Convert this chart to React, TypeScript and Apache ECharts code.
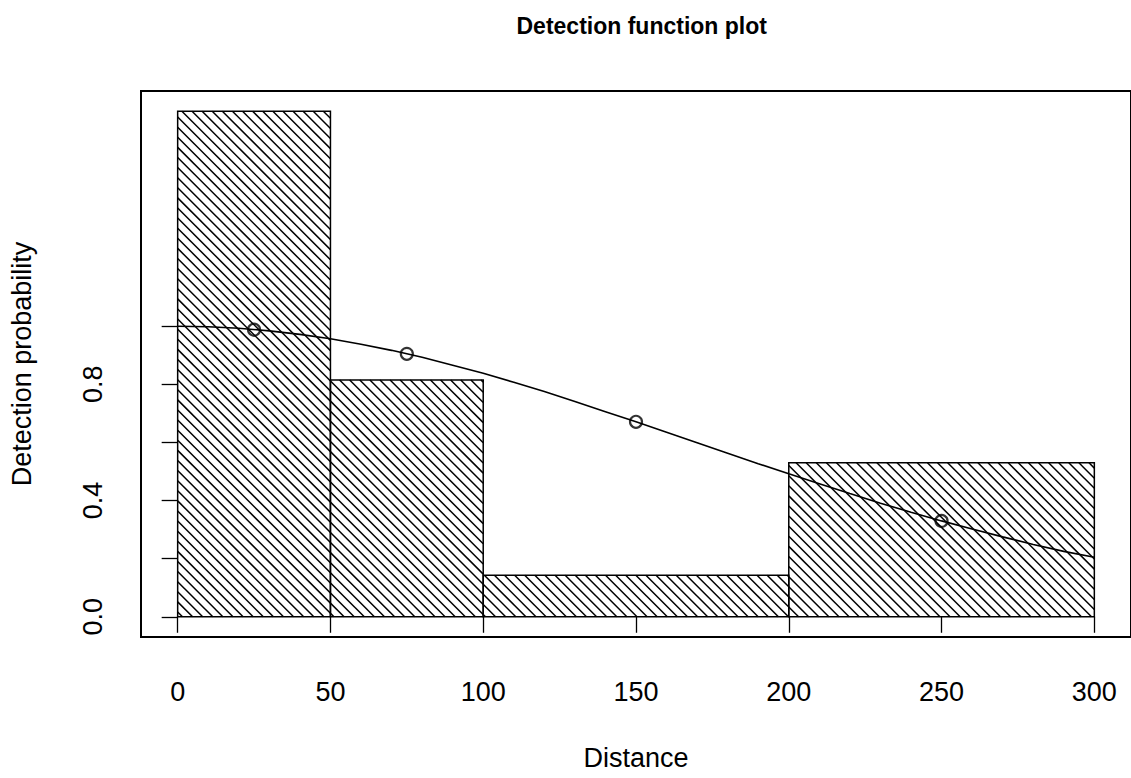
import React, { useEffect, useRef } from "react";
import * as echarts from "echarts";

// ---- data ----
const breaks = [0, 50, 100, 200, 300];
const barHeights = [1.74, 0.815, 0.143, 0.53];
const curveX = [0, 10, 20, 30, 40, 50, 60, 70, 80, 90, 100, 110, 120, 130, 140, 150, 160, 170, 180, 190, 200, 210, 220, 230, 240, 250, 260, 270, 280, 290, 300];
const curveY = [1.0, 0.998, 0.993, 0.984, 0.972, 0.957, 0.938, 0.917, 0.893, 0.866, 0.838, 0.807, 0.775, 0.741, 0.706, 0.671, 0.635, 0.599, 0.563, 0.527, 0.492, 0.458, 0.424, 0.391, 0.36, 0.33, 0.302, 0.275, 0.249, 0.225, 0.205];
const pointX = [25, 75, 150, 250];
const pointY = [0.988, 0.905, 0.671, 0.33];
const xTicks = [0, 50, 100, 150, 200, 250, 300];
const yTicks = [0, 0.2, 0.4, 0.6, 0.8, 1.0];
const yLabels = [0, 0.4, 0.8];
const titleText = "Detection function plot";
const xName = "Distance";
const yName = "Detection probability";

const FONT = "'Liberation Sans', Arial, Helvetica, sans-serif";
const FS = 27;

export default function App() {
  const ref = useRef<HTMLDivElement>(null);
  useEffect(() => {
    document.body.style.margin = "0";
    const chart = echarts.init(ref.current as HTMLDivElement, null, { renderer: "svg" });
    const xMin = -12;
    const xMax = 312;
    const yTop = Math.max(...barHeights);
    const yMin = -0.04 * yTop;
    const yMax = 1.04 * yTop;

    const barData = barHeights.map((h, i) => [breaks[i], breaks[i + 1], h]);

    const option: any = {
      animation: false,
      backgroundColor: "#fff",
      textStyle: { fontFamily: FONT },
      title: {
        text: titleText,
        left: 636.7,
        top: 9,
        textAlign: "center",
        textStyle: { fontSize: 23, fontWeight: "bold", color: "#000", fontFamily: FONT },
      },
      grid: {
        left: 140,
        top: 91,
        width: 993.6,
        height: 546,
        show: true,
        borderColor: "#000",
        borderWidth: 2,
        backgroundColor: "transparent",
        containLabel: false,
      },
      xAxis: {
        type: "value",
        min: xMin,
        max: xMax,
        name: xName,
        nameLocation: "middle",
        nameGap: 107,
        nameTextStyle: { fontSize: FS, color: "#000", fontFamily: FONT },
        splitLine: { show: false },
        axisLine: { show: false },
        axisTick: { show: true, customValues: xTicks, length: 16, lineStyle: { color: "#000", width: 1.3 } },
        axisLabel: { customValues: xTicks, margin: 41, fontSize: FS, color: "#000", fontFamily: FONT, hideOverlap: false },
      },
      yAxis: {
        type: "value",
        min: yMin,
        max: yMax,
        name: yName,
        nameLocation: "middle",
        nameGap: 106,
        nameRotate: 90,
        nameTextStyle: { fontSize: FS, color: "#000", fontFamily: FONT },
        splitLine: { show: false },
        axisLine: { show: false },
        axisTick: { show: true, customValues: yTicks, length: 16, lineStyle: { color: "#000", width: 1.3 } },
        axisLabel: {
          customValues: yLabels,
          rotate: 90,
          margin: 35,
          fontSize: FS,
          color: "#000",
          fontFamily: FONT,
          formatter: (v: number) => v.toFixed(1),
          hideOverlap: false,
        },
      },
      series: [
        {
          type: "custom",
          data: barData,
          encode: { x: [0, 1], y: 2 },
          z: 1,
          renderItem: (params: any, api: any) => {
            const x0 = api.value(0);
            const x1 = api.value(1);
            const h = api.value(2);
            const pA = api.coord([x0, h]);
            const pB = api.coord([x1, 0]);
            const xl = pA[0], yt = pA[1], xr = pB[0], yb = pB[1];
            const spacing = 10.1;
            const children: any[] = [];
            const cStart = Math.ceil((yt - xr) / spacing) * spacing;
            for (let c = cStart; c <= yb - xl; c += spacing) {
              const lo = Math.max(xl, yt - c);
              const hi = Math.min(xr, yb - c);
              if (hi > lo) {
                children.push({
                  type: "line",
                  shape: { x1: lo, y1: lo + c, x2: hi, y2: hi + c },
                  style: { stroke: "#000", lineWidth: 1.5 },
                });
              }
            }
            children.push({
              type: "rect",
              shape: { x: xl, y: yt, width: xr - xl, height: yb - yt },
              style: { fill: "none", stroke: "#000", lineWidth: 1.5 },
            });
            return { type: "group", children };
          },
        },
        {
          type: "line",
          data: curveX.map((x, i) => [x, curveY[i]]),
          showSymbol: false,
          symbol: "none",
          lineStyle: { color: "#000", width: 1.6 },
          z: 3,
        },
        {
          type: "scatter",
          data: pointX.map((x, i) => [x, pointY[i]]),
          symbol: "circle",
          symbolSize: 12,
          itemStyle: { color: "rgba(0,0,0,0)", borderColor: "#000", borderWidth: 2.2 },
          z: 4,
        },
      ],
    };
    chart.setOption(option);
    return () => chart.dispose();
  }, []);
  return <div ref={ref} style={{ position: "absolute", left: 0, top: 0, width: 1131, height: 778, background: "#fff" }} />;
}
